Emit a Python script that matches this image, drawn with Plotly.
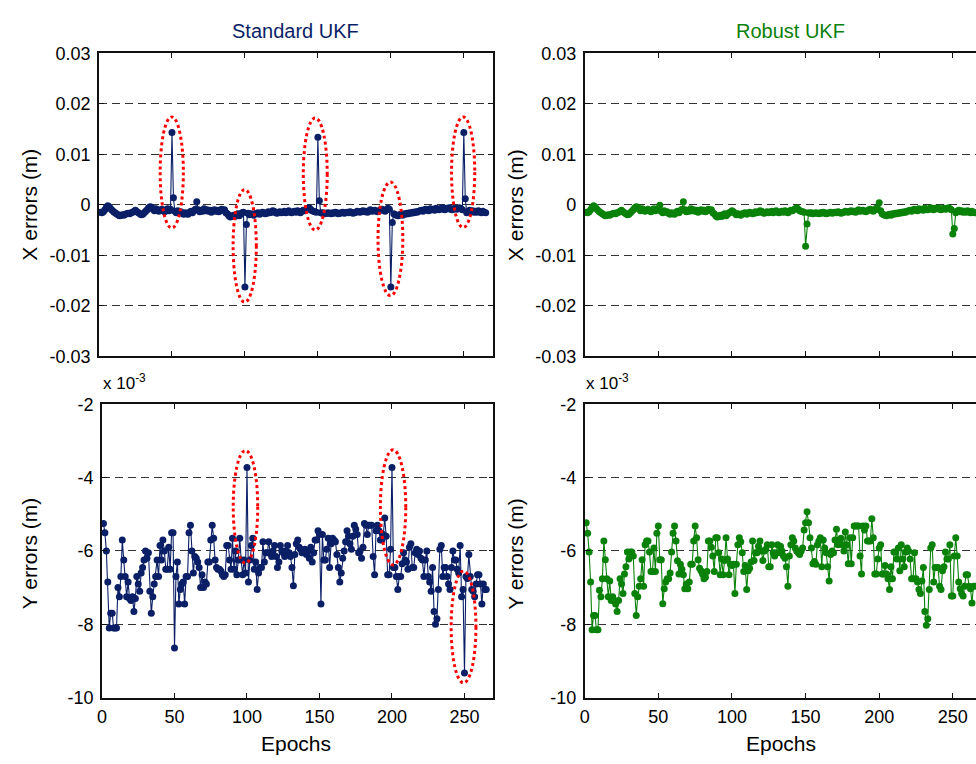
import plotly.graph_objects as go

# ---------------- data ----------------
epochs = list(range(1, 266))

# X errors, in millimetres (converted to metres when plotted)
x_seg1 = [-1.5, -1.6, -1.4, -1.0, -0.5, -0.2, -0.4, -0.8, -1.1, -1.4,
          -1.6, -1.8, -2.0, -2.2, -2.1, -2.0, -2.1, -1.9, -1.8, -1.7,
          -1.8, -1.6, -1.5, -1.3, -1.1, -1.4, -1.6, -1.8, -2.0, -1.9,
          -1.6, -1.3, -1.0, -0.6, -0.4, -0.5, -0.9, -1.2, -0.8, -1.0,
          -1.3, -1.1, -0.9, -1.2, -1.4, -1.0, -0.8, -1.2, -0.9]
x_seg2 = [-1.3, -1.6, -1.2, -1.5, -1.4, -1.7, -1.9, -1.6, -1.8, -1.9,
          -1.5, -1.3, -1.6, -1.2, -0.9, 0.6, -1.0, -1.4, -1.1, -1.3,
          -0.8, -1.2, -1.0, -1.3, -1.1, -1.5, -1.2, -1.0, -1.3, -1.1,
          -1.4, -1.2, -0.9, -1.1, -1.0, -1.6, -1.8, -2.2, -2.4, -2.3,
          -2.1, -2.3, -2.0, -1.8, -2.2, -1.9, -1.6, -1.5]
x_seg3 = [-1.7, -2.0, -1.8, -1.9, -2.1, -1.8, -1.7, -1.6, -1.9,
          -1.7, -1.5, -1.6, -1.8, -1.7, -1.4, -1.6, -1.5, -1.2, -1.3,
          -1.6, -1.7, -1.5, -1.4, -1.6, -1.5, -1.3, -1.6, -1.4, -1.2,
          -1.5, -1.6, -1.4, -1.3, -1.5, -1.2, -1.4, -1.6, -1.3, -1.1,
          -1.2, -1.0, -0.8, -0.6, -0.9, -1.2, -1.3, -1.4, -1.5]
x_seg4 = [-1.6, -1.7, -1.6, -1.8, -1.7, -1.6, -1.7, -1.8, -1.6,
          -1.7, -1.5, -1.6, -1.8, -1.7, -1.6, -1.5, -1.7, -1.6, -1.5,
          -1.6, -1.4, -1.5, -1.7, -1.6, -1.5, -1.3, -1.4, -1.5, -1.3,
          -1.2, -1.4, -1.3, -1.5, -1.2, -1.0, -1.3, -1.2, -1.1, -1.3,
          -1.4, -1.2, -1.0, -0.9, -1.1, -1.3, -1.0, -0.7, -0.9]
x_seg5 = [-1.8, -2.0, -2.1, -2.2, -2.0, -1.9, -2.1, -1.8, -1.9,
          -1.7, -1.8, -1.6, -1.7, -1.5, -1.6, -1.4, -1.5, -1.3, -1.2,
          -1.1, -1.3, -1.0, -0.9, -1.1, -1.2, -0.8, -1.0, -0.9, -1.1,
          -0.7, -0.9, -1.0, -0.8, -0.6, -0.9, -1.0, -0.7, -0.8, -0.6,
          -0.9, -1.0, -0.8, -0.7, -0.9, -0.8, -0.6, -0.8, -1.0]
x_seg6 = [-1.6, -1.3, -1.1, -1.4, -1.2, -1.5, -1.3, -1.5, -1.2, -1.4,
          -1.6, -1.3, -1.5, -1.6]
# values at epochs 50/51, 100/101, 150/151, 200/201, 250/251
x_std_out = [[14.3, 1.4], [-16.3, -3.9], [13.4, 0.8], [-16.3, -3.5], [14.3, 1.2]]
x_rob_out = [[-1.0, -0.1], [-1.2, -1.4], [-8.2, -3.8], [0.4, -1.2], [-5.8, -4.7]]

x_std_mm = (x_seg1 + x_std_out[0] + x_seg2 + x_std_out[1] + x_seg3 + x_std_out[2]
            + x_seg4 + x_std_out[3] + x_seg5 + x_std_out[4] + x_seg6)
x_rob_mm = (x_seg1 + x_rob_out[0] + x_seg2 + x_rob_out[1] + x_seg3 + x_rob_out[2]
            + x_seg4 + x_rob_out[3] + x_seg5 + x_rob_out[4] + x_seg6)

# Y errors, in units of 1e-3 m (as the axis shows "x 10^-3")
y_std = [
    -5.25, -5.5, -6.0, -6.85, -8.1, -7.7, -7.7, -8.1, -8.1, -8.1,
    -7.0, -7.25, -6.7, -5.7, -6.25, -6.7, -7.25, -6.85, -7.3, -7.35,
    -7.25, -7.65, -7.3, -6.7, -6.9, -7.1, -6.6, -6.45, -6.25, -6.0,
    -6.2, -6.05, -7.1, -7.7, -7.25, -6.9, -6.7, -6.25, -6.7, -5.85,
    -6.25, -5.7, -6.0, -6.5, -6.5, -5.9, -6.5, -5.5, -5.5, -8.65,
    -6.7, -6.3, -7.45, -7.05, -6.9, -6.85, -7.45, -6.7, -6.7, -5.5,
    -5.3, -6.0, -6.6, -6.15, -6.2, -6.3, -6.45, -7.0, -6.65, -7.0,
    -6.85, -6.9, -6.3, -6.3, -5.7, -5.3, -5.65, -6.25, -6.45, -6.5,
    -6.5, -6.55, -6.65, -6.7, -6.65, -5.85, -5.85, -6.25, -6.5, -5.65,
    -6.5, -6.0, -6.65, -6.25, -5.65, -6.25, -6.65, -6.25, -6.6, -3.72,
    -6.85, -6.25, -5.85, -5.65, -6.5, -6.3, -7.05, -6.6, -6.45, -6.45,
    -5.75, -6.3, -6.05, -6.05, -5.75, -6.05, -6.15, -6.0, -5.85, -6.15,
    -6.45, -6.3, -5.85, -6.0, -6.05, -6.15, -6.0, -5.85, -6.05, -6.15,
    -6.45, -6.95, -6.1, -5.8, -5.7, -5.9, -5.95, -6.05, -6.0, -5.95,
    -6.1, -6.0, -6.2, -5.9, -6.3, -6.05, -5.7, -5.7, -5.45, -5.55,
    -7.45,
    -5.55, -6.25, -6.25, -5.95, -5.65, -6.45, -5.8, -5.65, -5.7, -5.75,
    -6.1, -6.45, -6.85, -6.6, -6.2, -6.0, -5.75, -5.45, -5.6, -5.8,
    -5.95, -5.6, -5.3, -5.4, -5.55, -6.05, -6.0, -6.2, -5.9, -5.25,
    -5.3, -5.55, -5.3, -5.3, -5.3, -6.15, -6.65, -5.45, -5.3, -5.45,
    -5.7, -5.7, -5.55, -5.1, -5.6, -6.65, -6.65, -5.95, -3.72,
    -6.45, -6.45, -6.7, -7.05, -6.7, -6.7, -6.35, -6.05, -6.25, -6.3,
    -6.5, -5.9, -5.8, -6.45, -6.45, -6.05, -5.95, -6.1, -6.0, -6.2,
    -6.25, -6.7, -6.25, -6.0, -6.7, -6.85, -7.1, -6.45, -7.65, -8.0,
    -7.85, -7.05, -5.95, -5.85, -6.7, -6.45, -6.45, -6.7, -6.9, -7.05,
    -6.45, -6.0, -6.25, -6.25, -6.5, -6.6, -5.85, -7.25, -7.05, -9.33,
    -6.7, -6.75, -6.1, -6.7, -7.05, -7.1, -7.25, -6.9, -6.65, -6.65,
    -6.9, -7.45, -6.9, -7.05, -7.05]

y_rob = [
    -5.23, -5.52, -6.03, -6.85, -8.15, -7.76, -7.76, -8.15, -8.15, -7.07,
    -7.25, -6.76, -5.73, -6.24, -6.76, -7.25, -6.82, -7.35, -7.25, -7.35,
    -7.45, -7.65, -7.35, -6.76, -6.9, -7.16, -6.63, -6.43, -6.03, -6.22,
    -6.03, -6.03, -6.14, -7.16, -7.76, -7.25, -6.96, -6.76, -6.24, -6.96,
    -5.83, -5.73, -5.73, -6.03, -6.56, -6.56, -5.92, -6.56, -5.52, -5.32,
    -6.24, -6.24, -7.44, -7.03, -6.85, -6.76, -6.76, -6.6, -6.03, -5.52,
    -5.32, -5.73, -6.27, -6.63, -6.36, -6.5, -6.65, -7.03, -6.9, -7.03,
    -6.85, -6.36, -6.36, -5.73, -5.32, -5.64, -6.24, -6.47, -6.54, -6.63,
    -6.76, -6.72, -6.56, -5.73, -5.73, -5.9, -6.14, -6.56, -5.64,
    -5.64, -6.05, -6.65, -6.22, -6.65, -6.26, -5.64, -6.22, -6.65, -6.36,
    -6.4, -6.36, -7.16, -6.36, -5.83, -5.64, -5.75, -6.05, -6.56, -6.4,
    -7.05, -6.54, -6.47, -6.3, -5.73, -6.26, -6.05, -6.05, -5.87, -5.73,
    -6.0, -6.26, -6.0, -5.95, -5.83, -6.43, -6.43, -5.83, -6.05, -6.14,
    -6.05, -5.83, -6.05, -5.87, -6.0, -6.14, -6.2, -6.43, -6.96, -6.14,
    -5.83, -5.64, -5.73, -5.92, -6.0, -6.05, -6.1, -6.0, -5.92, -5.43,
    -5.23, -4.93, -5.23, -5.64, -5.92, -6.35, -6.29, -6.36, -5.83, -5.73,
    -5.64, -6.43, -5.7, -5.92, -6.05, -6.43, -6.82, -6.1, -6.0, -6.05,
    -5.7, -5.41, -5.83, -5.75, -5.65, -5.83, -6.0, -5.48, -5.83, -6.35,
    -5.64,
    -6.35, -5.64, -5.32, -5.32, -5.32, -5.32, -6.14, -6.63, -5.32, -5.43,
    -5.32, -5.73, -5.73, -5.73, -5.12, -5.64, -6.63, -6.63, -6.22, -5.92,
    -5.83, -6.63, -6.63, -6.4, -6.63, -6.76, -7.05, -6.43, -6.76, -6.03,
    -6.03, -6.22, -5.92, -6.54, -5.83, -6.22, -6.43, -6.03, -5.92, -6.0,
    -6.22, -6.76, -6.76, -6.05, -6.76, -6.85, -7.05, -7.16, -6.82, -6.45,
    -7.65, -8.03, -7.85, -7.05, -5.92, -5.83, -6.85, -6.45, -6.45, -6.45,
    -6.96, -7.05, -6.54, -6.43, -6.03, -6.22, -6.22, -5.83, -7.23, -7.23,
    -6.14, -5.64, -6.14, -6.85, -7.03, -7.16, -7.23, -6.96, -6.65, -6.65,
    -6.96, -7.03, -7.42, -6.96, -6.96]

x_ticks = [0, 50, 100, 150, 200, 250]
x_tick_text = ["0", "50", "100", "150", "200", "250"]
xerr_ticks = [-0.03, -0.02, -0.01, 0, 0.01, 0.02, 0.03]
xerr_tick_text = ["-0.03", "-0.02", "-0.01", "0", "0.01", "0.02", "0.03"]
yerr_ticks = [-10, -8, -6, -4, -2]
yerr_tick_text = ["-10", "-8", "-6", "-4", "-2"]

# outlier ellipses (epoch range, value range) drawn as dotted red marks
ell_x_std = [(41.9, 57.8, -0.0046, 0.0174), (91.9, 107.8, -0.0193, 0.0030),
             (140.0, 156.4, -0.0050, 0.0172), (191.2, 208.2, -0.0180, 0.0045),
             (241.6, 257.5, -0.0045, 0.0174)]
ell_y_std = [(90.5, 107.4, -6.33, -3.26), (192.0, 209.5, -6.38, -3.24),
             (240.8, 257.9, -9.6, -6.55)]

assert len(x_std_mm) == 265 and len(x_rob_mm) == 265
assert len(y_std) == 265 and len(y_rob) == 265, (len(y_std), len(y_rob))

# ---------------- figure ----------------
W, H = 976, 764
FONT = "Liberation Sans, Arial, sans-serif"
NAVY = "#0a1f66"
GREEN = "#0a820a"

fig = go.Figure()


def add_series(xa, ya, yvals, color):
    fig.add_trace(go.Scatter(
        x=epochs, y=yvals, mode="lines+markers", xaxis=xa, yaxis=ya,
        line=dict(color=color, width=1.1),
        marker=dict(color=color, size=7, line=dict(width=0)),
        showlegend=False, hoverinfo="skip"))


add_series("x", "y", [v / 1000 for v in x_std_mm], NAVY)
add_series("x2", "y2", [v / 1000 for v in x_rob_mm], GREEN)
add_series("x3", "y3", y_std, NAVY)
add_series("x4", "y4", y_rob, GREEN)


def px(xp):
    return xp / W


def py(yp):
    return 1 - yp / H


tick_font = dict(family=FONT, size=18, color="black")
base = dict(showline=True, linecolor="#111", linewidth=1.6, ticks="inside",
            ticklen=5, tickwidth=1, tickcolor="#111", zeroline=False,
            tickfont=tick_font)

top_dom = [py(355.5), py(44.5)]
bot_dom = [py(706), py(405)]
left_top_dom = [px(94.5), px(490.5)]
left_bot_dom = [px(97.5), px(491)]
right_dom = [px(582.7), 1.0]
right_max = (W - 582.7) / 1.48

xcommon = dict(base, tickvals=x_ticks, ticktext=x_tick_text, showgrid=False,
               ticklabelstandoff=2)
ygrid = dict(showgrid=True, gridcolor="#333", gridwidth=1, griddash="8px,5px",
             ticklabelstandoff=3)

fig.update_layout(
    width=W, height=H, margin=dict(l=0, r=0, t=0, b=0),
    paper_bgcolor="white", plot_bgcolor="white",
    font=dict(family=FONT, color="black"),
    xaxis=dict(xcommon, domain=left_top_dom, range=[0, 270], anchor="y",
               mirror="ticks", showticklabels=False),
    xaxis2=dict(xcommon, domain=right_dom, range=[0, right_max], anchor="y2",
                mirror="ticks", showticklabels=False),
    xaxis3=dict(xcommon, domain=left_bot_dom, range=[0, 270], anchor="y3",
                mirror="ticks"),
    xaxis4=dict(xcommon, domain=right_dom, range=[0, right_max], anchor="y4",
                mirror="ticks"),
    yaxis=dict(base, **ygrid, domain=top_dom, range=[-0.03, 0.03], anchor="x",
               tickvals=xerr_ticks, ticktext=xerr_tick_text, mirror="ticks"),
    yaxis2=dict(base, **ygrid, domain=top_dom, range=[-0.03, 0.03], anchor="x2",
                tickvals=xerr_ticks, ticktext=xerr_tick_text, mirror=False),
    yaxis3=dict(base, **ygrid, domain=bot_dom, range=[-10, -2], anchor="x3",
                tickvals=yerr_ticks, ticktext=yerr_tick_text, mirror="ticks"),
    yaxis4=dict(base, **ygrid, domain=bot_dom, range=[-10, -2], anchor="x4",
                tickvals=yerr_ticks, ticktext=yerr_tick_text, mirror=False),
)

shapes = []
for (x0, x1, y0, y1) in ell_x_std:
    shapes.append(dict(type="circle", xref="x", yref="y", x0=x0, x1=x1, y0=y0, y1=y1,
                       line=dict(color="#ff0000", width=3, dash="dot"), layer="above"))
for (x0, x1, y0, y1) in ell_y_std:
    shapes.append(dict(type="circle", xref="x3", yref="y3", x0=x0, x1=x1, y0=y0, y1=y1,
                       line=dict(color="#ff0000", width=3, dash="dot"), layer="above"))
fig.update_layout(shapes=shapes)

ann = []
title_font = dict(family=FONT, size=20)
lab_font = dict(family=FONT, size=21, color="black")
ann.append(dict(text="Standard UKF", x=px(292), y=py(22), font=dict(title_font, color=NAVY)))
ann.append(dict(text="Robust UKF", x=px(790), y=py(22), font=dict(title_font, color=GREEN)))
for xc in (25, 513):
    ann.append(dict(text="X errors (m)", x=px(xc), y=py(200), textangle=-90, font=lab_font))
    ann.append(dict(text="Y errors (m)", x=px(xc), y=py(558), textangle=-90, font=lab_font))
ann.append(dict(text="Epochs", x=px(292), y=py(753), font=lab_font))
ann.append(dict(text="Epochs", x=px(780), y=py(753), font=lab_font))
for xl in (96, 582):
    ann.append(dict(text="x 10<sup>-3</sup>", x=px(xl), y=py(382), xanchor="left",
                    font=dict(family=FONT, size=17, color="black")))
for a in ann:
    a.setdefault("xanchor", "center")
    a.update(xref="paper", yref="paper", yanchor="middle", showarrow=False)
fig.update_layout(annotations=ann)

fig.write_html("out.html")
